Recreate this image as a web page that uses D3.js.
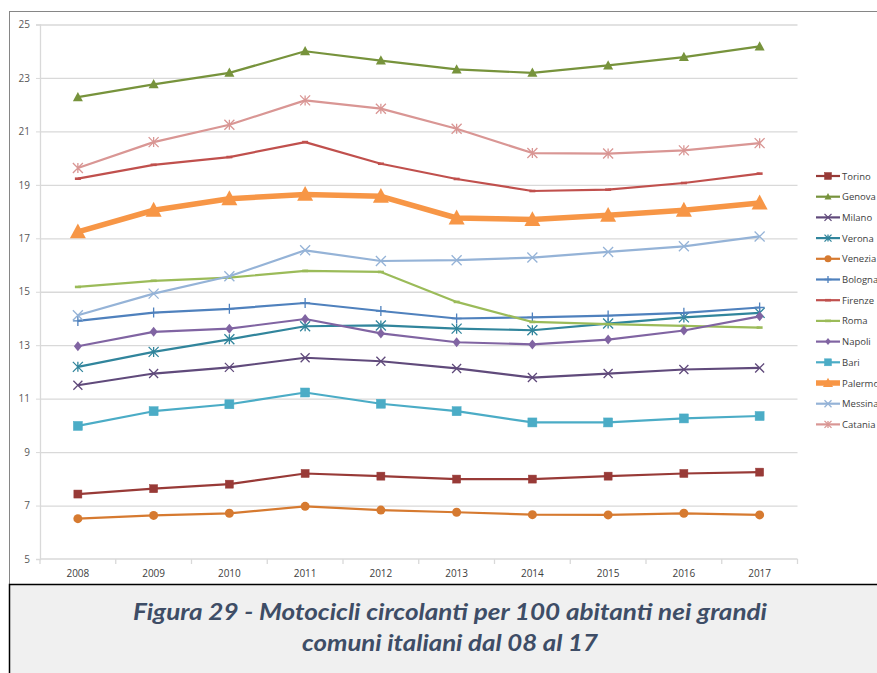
<!DOCTYPE html>
<html>
<head>
<meta charset="utf-8">
<script src="https://cdn.jsdelivr.net/npm/d3@7/dist/d3.min.js"></script>
<style>
  html, body { margin: 0; padding: 0; background: #ffffff; }
  svg { display: block; }
</style>
</head>
<body>
<svg id="chart" width="877" height="673"></svg>
<script>
// Motocicli circolanti per 100 abitanti, grandi comuni italiani 2008-2017
const years = ["2008","2009","2010","2011","2012","2013","2014","2015","2016","2017"];
const yTicks = [5, 7, 9, 11, 13, 15, 17, 19, 21, 23, 25];

const cities = ["Torino","Genova","Milano","Verona","Venezia","Bologna","Firenze","Roma","Napoli","Bari","Palermo","Messina","Catania"];

const torino  = [7.43, 7.63, 7.80, 8.20, 8.10, 7.99, 7.99, 8.10, 8.20, 8.25];
const genova  = [22.28, 22.76, 23.19, 24.00, 23.65, 23.32, 23.19, 23.47, 23.78, 24.18];
const milano  = [11.50, 11.94, 12.17, 12.53, 12.40, 12.13, 11.79, 11.94, 12.09, 12.15];
const verona  = [12.19, 12.75, 13.22, 13.71, 13.74, 13.62, 13.56, 13.81, 14.04, 14.21];
const venezia = [6.51, 6.63, 6.71, 6.97, 6.83, 6.75, 6.66, 6.65, 6.71, 6.65];
const bologna = [13.91, 14.22, 14.36, 14.58, 14.28, 14.00, 14.04, 14.11, 14.21, 14.41];
const firenze = [19.23, 19.75, 20.04, 20.60, 19.79, 19.22, 18.77, 18.82, 19.07, 19.42];
const roma    = [15.18, 15.41, 15.53, 15.78, 15.74, 14.62, 13.87, 13.79, 13.72, 13.66];
const napoli  = [12.96, 13.50, 13.62, 13.98, 13.44, 13.11, 13.03, 13.21, 13.55, 14.08];
const bari    = [9.98, 10.53, 10.79, 11.23, 10.81, 10.53, 10.11, 10.11, 10.26, 10.35];
const palermo = [17.24, 18.05, 18.48, 18.64, 18.57, 17.76, 17.70, 17.86, 18.05, 18.32];
const messina = [14.12, 14.93, 15.58, 16.55, 16.15, 16.18, 16.28, 16.49, 16.70, 17.07];
const catania = [19.63, 20.60, 21.25, 22.16, 21.85, 21.10, 20.19, 20.17, 20.29, 20.56];

const seriesValues = [torino, genova, milano, verona, venezia, bologna, firenze, roma, napoli, bari, palermo, messina, catania];

const caption = ["Figura 29 - Motocicli circolanti per 100 abitanti nei grandi", "comuni italiani dal 08 al 17"];

// Line colour, marker kind, marker size and stroke width for each city
const styles = {
  Torino:  { color: "#983a37", marker: "square",   size: 8,  width: 2.2 },
  Genova:  { color: "#77933c", marker: "triangle", size: 10, width: 2.2 },
  Milano:  { color: "#604a7b", marker: "x",        size: 9,  width: 2.2 },
  Verona:  { color: "#31859c", marker: "star",     size: 10, width: 2.2 },
  Venezia: { color: "#d67a30", marker: "circle",   size: 9,  width: 2.2 },
  Bologna: { color: "#4f81bd", marker: "plus",     size: 10, width: 2.2 },
  Firenze: { color: "#c0504d", marker: "dash",     size: 6,  width: 2.2 },
  Roma:    { color: "#9bbb59", marker: "dash",     size: 6,  width: 2.2 },
  Napoli:  { color: "#8064a2", marker: "diamond",  size: 10, width: 2.2 },
  Bari:    { color: "#4bacc6", marker: "square",   size: 9,  width: 2.2 },
  Palermo: { color: "#f79646", marker: "triangle", size: 16, width: 5.5 },
  Messina: { color: "#95b3d7", marker: "x",        size: 10, width: 2.2 },
  Catania: { color: "#d99694", marker: "star",     size: 10, width: 2.2 }
};

const svg = d3.select("#chart");
const fontUI = "'Open Sans', 'Liberation Sans', sans-serif";

// Outer chart frame and caption box
svg.append("rect")
  .attr("x", 9.5).attr("y", 11.5).attr("width", 900).attr("height", 600)
  .attr("fill", "#ffffff").attr("stroke", "#868686").attr("stroke-width", 1);

svg.append("rect")
  .attr("x", 9.5).attr("y", 584.5).attr("width", 900).attr("height", 120)
  .attr("fill", "#f0f0f0").attr("stroke", "#000000").attr("stroke-width", 1.5);

const plot = { left: 40, right: 797.5, top: 24.5, bottom: 559 };

const x = d3.scaleBand().domain(years).range([plot.left, plot.right]).padding(0);
const y = d3.scaleLinear().domain([5, 25]).range([plot.bottom, plot.top]);
const cx = d => x(d) + x.bandwidth() / 2;

// Horizontal gridlines
svg.append("g")
  .attr("transform", `translate(${plot.left},0)`)
  .call(d3.axisLeft(y).tickValues(yTicks.filter(v => v > 5)).tickSize(-(plot.right - plot.left)).tickFormat(""))
  .call(g => g.select(".domain").remove())
  .call(g => g.selectAll(".tick line").attr("stroke", "#d9d9d9").attr("stroke-width", 1.3));

// Y axis with labels
svg.append("g")
  .attr("transform", `translate(${plot.left},0)`)
  .call(d3.axisLeft(y).tickValues(yTicks).tickSize(4).tickPadding(6).tickFormat(d3.format("d")))
  .call(g => g.select(".domain").attr("stroke", "#d9d9d9").attr("stroke-width", 1.3))
  .call(g => g.selectAll(".tick line").attr("stroke", "#d9d9d9"))
  .call(g => g.selectAll("text").attr("fill", "#595959").attr("font-family", fontUI).attr("font-size", 10));

// X axis: baseline, boundary ticks, centred year labels
const xAxisG = svg.append("g").attr("transform", `translate(0,${plot.bottom})`);
xAxisG.append("line")
  .attr("x1", plot.left).attr("x2", plot.right)
  .attr("stroke", "#d9d9d9").attr("stroke-width", 1.3);
const boundaries = years.map(d => x(d)).concat([x(years[years.length - 1]) + x.bandwidth()]);
xAxisG.selectAll("line.b").data(boundaries).join("line")
  .attr("class", "b")
  .attr("x1", d => d).attr("x2", d => d).attr("y1", 0).attr("y2", 5)
  .attr("stroke", "#d9d9d9").attr("stroke-width", 1.3);
xAxisG.selectAll("text").data(years).join("text")
  .attr("x", d => cx(d)).attr("y", 18)
  .attr("text-anchor", "middle")
  .attr("fill", "#404040").attr("font-family", fontUI).attr("font-size", 10)
  .text(d => d);

// Marker drawing
function drawMarker(sel, kind, s, color, isLegend) {
  const h = s / 2;
  if (kind === "square") {
    sel.append("rect").attr("x", -h).attr("y", -h).attr("width", s).attr("height", s)
      .attr("fill", color).attr("stroke", color).attr("stroke-width", 0.5);
  } else if (kind === "triangle") {
    sel.append("path")
      .attr("d", `M0,${-h * 1.05}L${h},${h * 0.8}L${-h},${h * 0.8}Z`)
      .attr("fill", color);
  } else if (kind === "circle") {
    sel.append("circle").attr("r", h).attr("fill", color);
  } else if (kind === "diamond") {
    sel.append("path").attr("d", `M0,${-h}L${h * 0.8},0L0,${h}L${-h * 0.8},0Z`).attr("fill", color);
  } else if (kind === "x") {
    sel.append("path").attr("d", `M${-h},${-h}L${h},${h}M${-h},${h}L${h},${-h}`)
      .attr("stroke", color).attr("stroke-width", 1.3).attr("fill", "none");
  } else if (kind === "star") {
    sel.append("path").attr("d", `M${-h},${-h}L${h},${h}M${-h},${h}L${h},${-h}M0,${-h}L0,${h}`)
      .attr("stroke", color).attr("stroke-width", 1.3).attr("fill", "none");
  } else if (kind === "plus") {
    sel.append("path").attr("d", `M${-h},0L${h},0M0,${-h}L0,${h}`)
      .attr("stroke", color).attr("stroke-width", 1.3).attr("fill", "none");
  } else if (kind === "dash") {
    sel.append("path").attr("d", `M${-h},0L${h},0`)
      .attr("stroke", color).attr("stroke-width", 2.6).attr("fill", "none");
  }
}

const line = d3.line().x(d => cx(d.year)).y(d => y(d.value));

const data = cities.map((name, i) => ({
  name,
  style: styles[name],
  points: years.map((yr, j) => ({ year: yr, value: seriesValues[i][j] }))
}));

// Series lines and markers
const seriesG = svg.append("g");
data.forEach(s => {
  const g = seriesG.append("g");
  g.append("path")
    .datum(s.points)
    .attr("d", line)
    .attr("fill", "none")
    .attr("stroke", s.style.color)
    .attr("stroke-width", s.style.width)
    .attr("stroke-linejoin", "round");
  g.selectAll("g.m").data(s.points).join("g")
    .attr("class", "m")
    .attr("transform", d => `translate(${cx(d.year)},${y(d.value)})`)
    .each(function () { drawMarker(d3.select(this), s.style.marker, s.style.size, s.style.color, false); });
});

// Legend
const legend = svg.append("g").attr("transform", "translate(816,176)");
const rowStep = 20.7;
data.forEach((s, i) => {
  const row = legend.append("g").attr("transform", `translate(0,${i * rowStep})`);
  row.append("line").attr("x1", 0).attr("x2", 24)
    .attr("stroke", s.style.color).attr("stroke-width", s.style.width);
  const m = row.append("g").attr("transform", "translate(12,0)");
  const ls = s.style.marker === "triangle" && s.style.size > 12 ? 10 : Math.min(s.style.size, 7);
  drawMarker(m, s.style.marker, ls, s.style.color, true);
  row.append("text").attr("x", 26).attr("y", 3.5)
    .attr("fill", "#404040").attr("font-family", fontUI).attr("font-size", 9.5)
    .text(s.name);
});

// Caption
const capG = svg.append("g");
capG.selectAll("text").data(caption).join("text")
  .attr("x", 450).attr("y", (d, i) => 620 + i * 31)
  .attr("text-anchor", "middle")
  .attr("fill", "#3e4d66")
  .attr("font-family", "Lato, 'Open Sans', sans-serif")
  .attr("font-weight", "bold")
  .attr("font-style", "italic")
  .attr("font-size", 22)
  .attr("textLength", (d, i) => i === 0 ? 634 : 296)
  .attr("lengthAdjust", "spacingAndGlyphs")
  .text(d => d);
</script>
</body>
</html>
